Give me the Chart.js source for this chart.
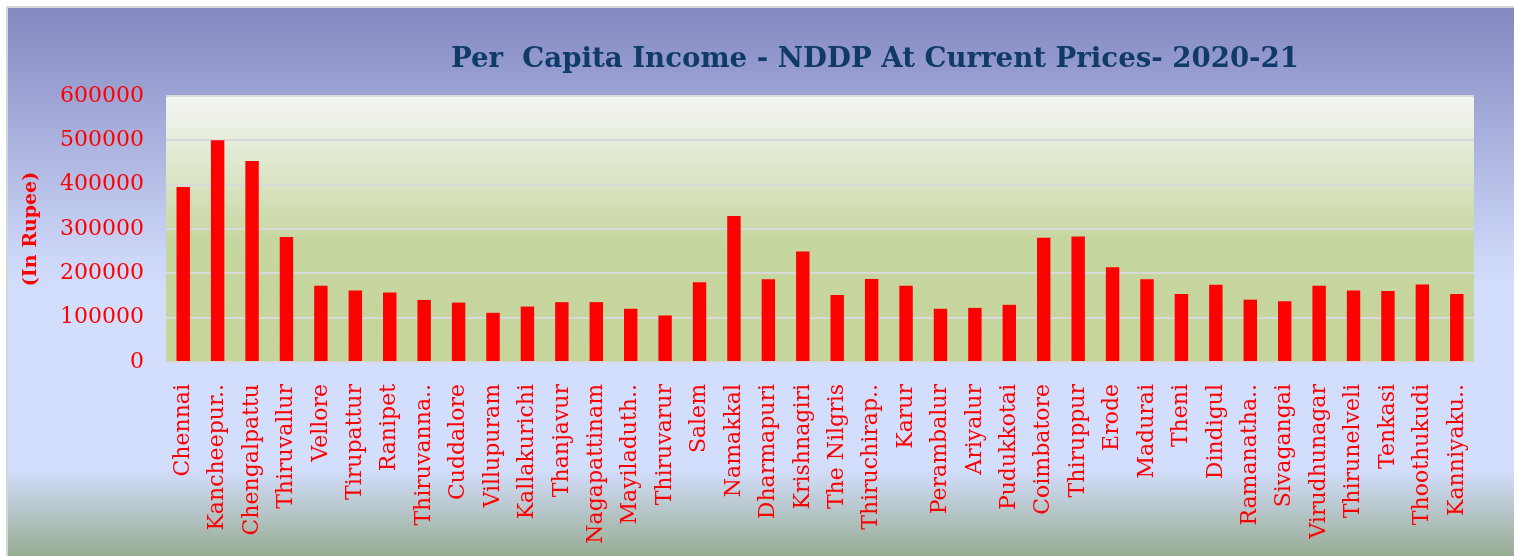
<!DOCTYPE html>
<html>
<head>
<meta charset="utf-8">
<title>Per Capita Income - NDDP At Current Prices 2020-21</title>
<script src="https://cdn.jsdelivr.net/npm/chart.js"></script>
<style>
  body { margin: 0; background: #ffffff; }
</style>
</head>
<body>
<canvas id="pciChart" width="1514" height="556"></canvas>

<script>
// district labels as shown on the axis (long names are cut with "..")
const districts = [
    'Chennai', 'Kancheepur..', 'Chengalpattu', 'Thiruvallur', 'Vellore',
    'Tirupattur', 'Ranipet', 'Thiruvanna..', 'Cuddalore', 'Villupuram',
    'Kallakurichi', 'Thanjavur', 'Nagapattinam', 'Mayiladuth..', 'Thiruvarur',
    'Salem', 'Namakkal', 'Dharmapuri', 'Krishnagiri', 'The Nilgris',
    'Thiruchirap..', 'Karur', 'Perambalur', 'Ariyalur', 'Pudukkotai',
    'Coimbatore', 'Thiruppur', 'Erode', 'Madurai', 'Theni',
    'Dindigul', 'Ramanatha..', 'Sivagangai', 'Virudhunagar', 'Thirunelveli',
    'Tenkasi', 'Thoothukudi', 'Kanniyaku..'
];

// per capita income (Rs)
const perCapita = [
    395000, 500000, 453600, 281700, 172000,
    161000, 157000, 140000, 134000, 111000,
    125000, 135000, 135000, 120000, 105000,
    180000, 329600, 186500, 249000, 151000,
    187000, 172000, 120000, 122000, 129000,
    280000, 283000, 214000, 186500, 153500,
    174000, 140600, 137000, 172000, 161000,
    160000, 175000, 153500
];

const yTicks = [0, 100000, 200000, 300000, 400000, 500000, 600000];

const chartTitle = 'Per  Capita Income - NDDP At Current Prices- 2020-21';
const yTitle = '(In Rupee)';

// slide background + plot area gradient
const backgroundPlugin = {
    id: 'backgrounds',
    beforeDraw(chart) {
        const ctx = chart.ctx;
        const area = chart.chartArea;
        const w = chart.width, h = chart.height;
        ctx.save();
        ctx.fillStyle = '#ffffff';
        ctx.fillRect(0, 0, w, h);
        ctx.fillStyle = '#d6d6d6';
        ctx.fillRect(6, 6, w - 6, 2);
        ctx.fillRect(6, 6, 2, h - 6);

        const outer = ctx.createLinearGradient(0, 8, 0, h);
        outer.addColorStop(0, '#8388c1');
        outer.addColorStop(0.46, '#cdd7f8');
        outer.addColorStop(0.52, '#d3defd');
        outer.addColorStop(0.84, '#d3defd');
        outer.addColorStop(1, '#98ac93');
        ctx.fillStyle = outer;
        ctx.fillRect(8, 8, w - 8, h - 8);

        const inner = ctx.createLinearGradient(0, area.top, 0, area.bottom);
        inner.addColorStop(0, '#f3f6f3');
        inner.addColorStop(0.25, '#e0e8ce');
        inner.addColorStop(0.45, '#cedcae');
        inner.addColorStop(0.55, '#c6d69f');
        inner.addColorStop(1, '#c5d59c');
        ctx.fillStyle = inner;
        ctx.fillRect(area.left, area.top, area.right - area.left, area.bottom - area.top);
        ctx.restore();
    }
};

// the title sits right of centre on the slide, so draw it by hand
const titlePlugin = {
    id: 'slideTitle',
    afterDraw(chart) {
        const ctx = chart.ctx;
        ctx.save();
        ctx.font = 'bold 27.6px "DejaVu Serif"';
        ctx.fillStyle = '#103a68';
        ctx.textAlign = 'center';
        ctx.textBaseline = 'alphabetic';
        ctx.fillText(chartTitle, 875, 67);
        ctx.restore();
    }
};

const ctx = document.getElementById('pciChart').getContext('2d');
const pciChart = new Chart(ctx, {
    type: 'bar',
    data: {
        labels: districts,
        datasets: [{
            label: 'Per Capita Income',
            data: perCapita,
            backgroundColor: '#ff0000',
            borderWidth: 0,
            barPercentage: 0.39,
            categoryPercentage: 1.0
        }]
    },
    options: {
        responsive: false,
        animation: false,
        layout: {
            padding: { left: 8, top: 96, right: 40, bottom: 0 }
        },
        plugins: {
            legend: { display: false },
            tooltip: { enabled: false }
        },
        scales: {
            x: {
                grid: { display: false, drawTicks: false },
                border: { display: false },
                ticks: {
                    color: '#ff0000',
                    font: { family: 'DejaVu Serif', size: 22 },
                    minRotation: 90,
                    maxRotation: 90,
                    autoSkip: false,
                    padding: 22
                },
                afterFit(scale) { scale.height = 194; }
            },
            y: {
                min: yTicks[0],
                max: yTicks[yTicks.length - 1],
                afterBuildTicks(scale) {
                    scale.ticks = yTicks.map(v => ({ value: v }));
                },
                grid: { color: '#d9d9d9', lineWidth: 2, drawTicks: false },
                border: { display: false },
                ticks: {
                    color: '#ff0000',
                    font: { family: 'DejaVu Serif', size: 22 },
                    padding: 22,
                    callback: value => String(value)
                },
                title: {
                    display: true,
                    text: yTitle,
                    color: '#ff0000',
                    font: { family: 'DejaVu Serif', size: 19, weight: 'bold' },
                    padding: { top: 12, bottom: 0 }
                },
                afterFit(scale) { scale.width = 158; }
            }
        }
    },
    plugins: [backgroundPlugin, titlePlugin]
});
</script>
</body>
</html>
